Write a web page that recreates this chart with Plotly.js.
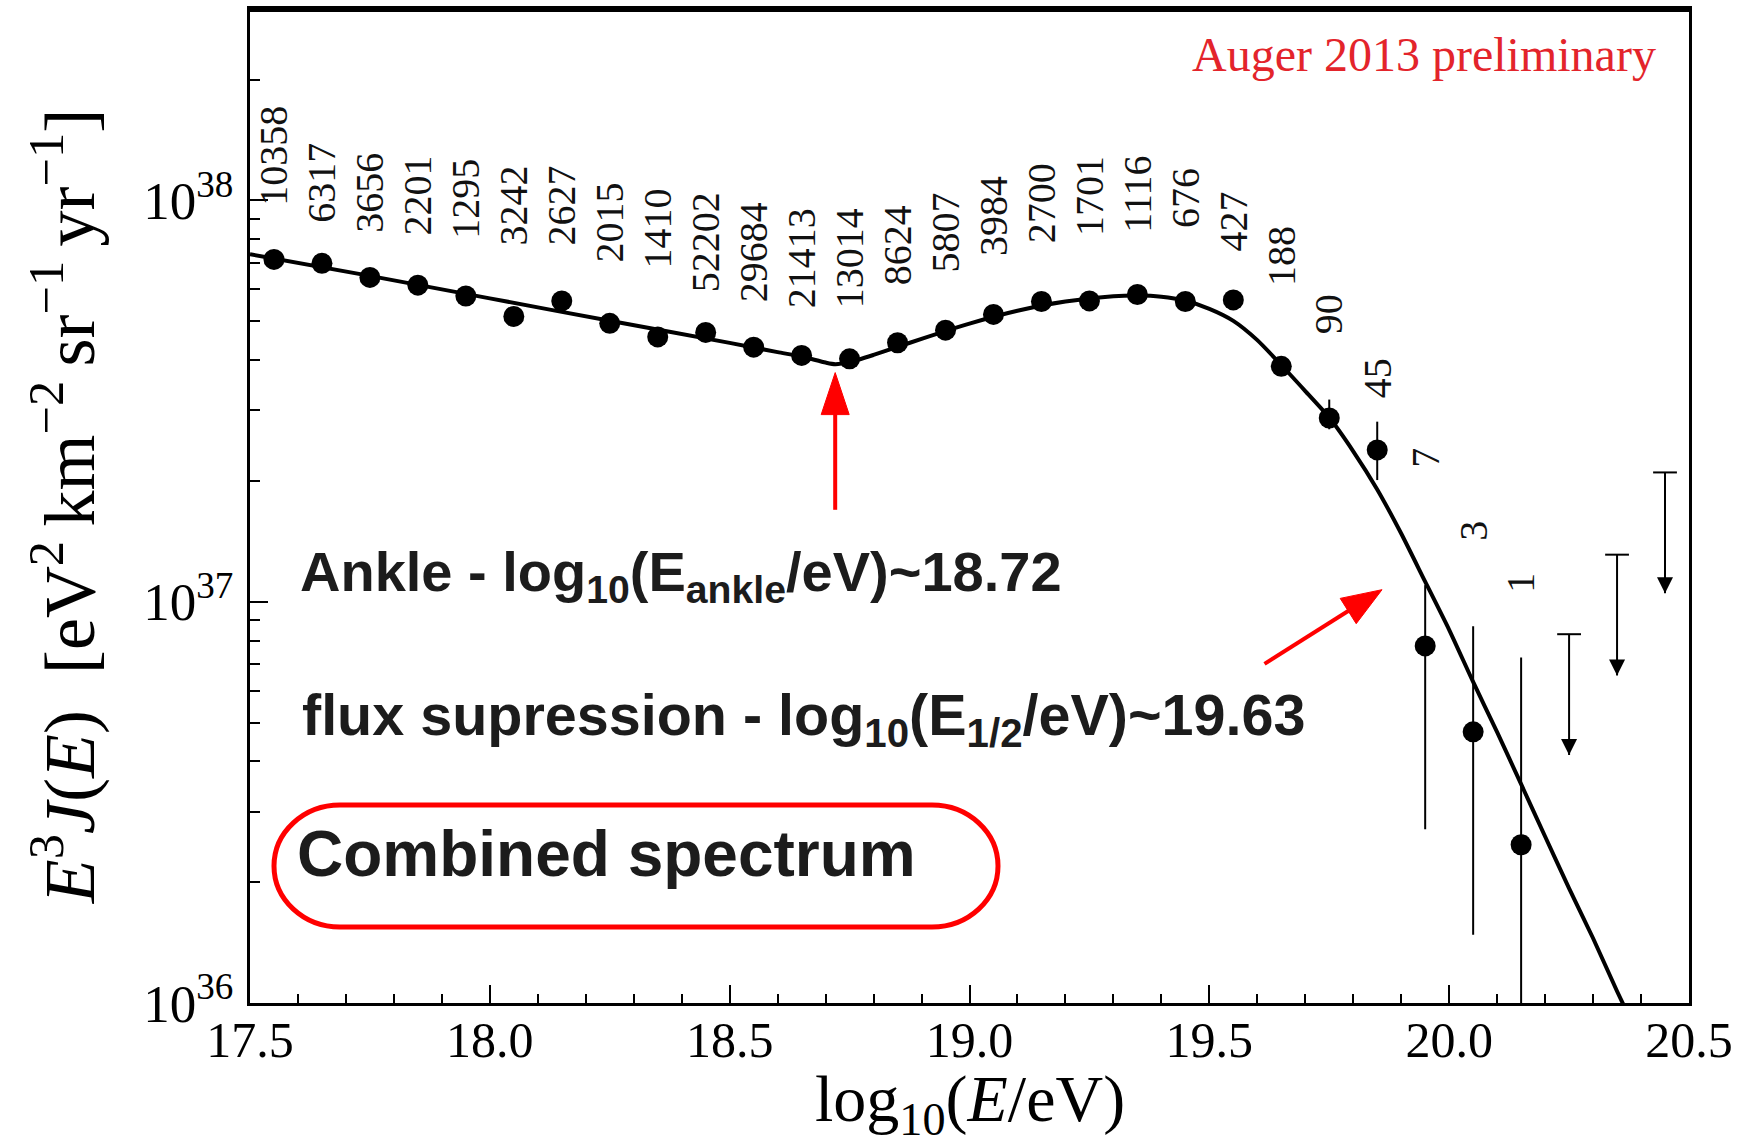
<!DOCTYPE html>
<html>
<head>
<meta charset="utf-8">
<script src="https://cdn.plot.ly/plotly-3.0.1.min.js"></script>
<style>html,body{margin:0;padding:0;background:#fff;}#chart{width:1748px;height:1147px;}</style>
</head>
<body>
<div id="chart"></div>
<script>
// ---- data ----
// bin centres, log10(E/eV)
const logE = [17.55,17.65,17.75,17.85,17.95,18.05,18.15,18.25,18.35,18.45,18.55,18.65,18.75,18.85,18.95,19.05,19.15,19.25,19.35,19.45,19.55,19.65,19.75,19.85,19.95,20.05,20.15];
// E^3 J(E) in units of 1e37 eV^2 km^-2 sr^-1 yr^-1
const flux37 = [7.13,6.97,6.43,6.15,5.78,5.14,5.62,4.94,4.57,4.69,4.31,4.11,4.03,4.42,4.75,5.20,5.60,5.62,5.83,5.60,5.65,3.86,2.87,2.39,0.776,0.474,0.248];
// error bar upper / lower ends (same units), null = bar hidden by marker
const errUp37  = [null,null,null,null,null,null,null,null,null,null,null,null,null,null,null,null,null,null,null,null,null,null,3.19,2.81,1.10,0.869,0.726];
const errLow37 = [null,null,null,null,null,null,null,null,null,null,null,null,null,null,null,null,null,null,null,null,null,null,2.69,2.01,0.271,0.148,0.09];
// number of events per bin
const counts = ['10358','6317','3656','2201','1295','3242','2627','2015','1410','52202','29684','21413','13014','8624','5807','3984','2700','1701','1116','676','427','188','90','45','7','3','1'];
// upper limits
const limitLogE = [20.25,20.35,20.45];
const limit37 = [0.83,1.31,2.10];
// fitted spectrum
const fitLogE = [17.5,17.75,18.0,18.25,18.5,18.6,18.65,18.7,18.72,18.75,18.8,18.85,18.9,19.0,19.1,19.2,19.3,19.35,19.4,19.45,19.5,19.55,19.6,19.65,19.7,19.75,19.8,19.85,19.9,19.95,20.0,20.05,20.1,20.15,20.2,20.25,20.3,20.35,20.4];
const fit37 = [7.345,6.486,5.702,5.012,4.416,4.188,4.083,3.945,3.908,3.954,4.121,4.315,4.519,4.932,5.309,5.598,5.768,5.794,5.754,5.623,5.370,5.012,4.487,3.890,3.350,2.877,2.371,1.905,1.479,1.122,0.851,0.631,0.473,0.351,0.260,0.193,0.145,0.107,0.080];
// axis ticks
const xTickLabels = ['17.5','18.0','18.5','19.0','19.5','20.0','20.5'];
const yTickVals = [1e36,1e37,1e38];
const yTickText = ['10<sup>36</sup>','10<sup>37</sup>','10<sup>38</sup>'];

// ---- layout positions (annotation placement, not data) ----
const countLabelLog = [37.984,37.942,37.917,37.910,37.902,37.885,37.885,37.842,37.827,37.768,37.743,37.728,37.728,37.785,37.817,37.860,37.892,37.910,37.917,37.930,37.871,37.785,37.665,37.505,37.332,37.15,37.02];
const ankleLogE = 18.72, ankleTipLog = 37.571, ankleTailLog = 37.229;
const supTipX = 19.86, supTipLog = 37.03, supTailX = 19.615, supTailLog = 36.845;

const U = 1e37;
const W = 1748, H = 1147;
const M = {l:250, r:59, t:9, b:144};
const plotW = W - M.l - M.r, plotH = H - M.t - M.b;
const xRange = [17.5, 20.5];
const yRange = [36, Math.log10(3e38)];

const fluxY = flux37.map(v => v*U);
const plus = flux37.map((v,i) => errUp37[i] == null ? 0 : (errUp37[i]-v)*U);
const minus = flux37.map((v,i) => errLow37[i] == null ? 0 : (v-errLow37[i])*U);

const limX = [], limY = [];
limitLogE.forEach((x,i) => { limX.push(x,x,null); limY.push(limit37[i]*U, limit37[i]*U/2, null); });

const traces = [
  {x: fitLogE, y: fit37.map(v=>v*U), type:'scatter', mode:'lines', line:{color:'#000', width:4, shape:'spline', smoothing:0.6}, hoverinfo:'skip'},
  {x: logE, y: fluxY, type:'scatter', mode:'markers', marker:{size:21, color:'#000'},
   error_y:{type:'data', symmetric:false, array:plus, arrayminus:minus, color:'#000', thickness:2, width:0}},
  {x: limX, y: limY, type:'scatter', mode:'lines', line:{color:'#000', width:2}, hoverinfo:'skip'},
  {x: limitLogE, y: limit37.map(v=>v*U), type:'scatter', mode:'markers', marker:{symbol:'line-ew', size:17, line:{color:'#000', width:2}}, hoverinfo:'skip'},
  {x: limitLogE, y: limit37.map(v=>v*U/2), type:'scatter', mode:'markers', marker:{symbol:'arrow-down', size:16, color:'#000'}, hoverinfo:'skip'}
];

const serif = 'Liberation Serif, Times New Roman, serif';
const sans = 'Liberation Sans, Arial, sans-serif';

const annotations = counts.map((c,i) => ({
  x: logE[i], y: countLabelLog[i], xref:'x', yref:'y', text:c, showarrow:false,
  textangle:-90, xanchor:'center', yanchor:'bottom', borderpad:0,
  font:{family:serif, size:40, color:'#111'}
}));
annotations.push(
  {xref:'paper', yref:'paper', x:0.5, y:-0.0584, xanchor:'center', yanchor:'top', showarrow:false, borderpad:0,
   text:'log<sub>10</sub>(<i>E</i>/eV)', font:{family:serif, size:66, color:'#000'}},
  {xref:'paper', yref:'paper', x:0.9785, y:0.9547, xanchor:'right', yanchor:'middle', showarrow:false,
   text:'Auger 2013 preliminary', font:{family:serif, size:48, color:'#e3242b'}},
  {xref:'paper', yref:'paper', x:0.0334, y:0.4300, xanchor:'left', yanchor:'middle', showarrow:false,
   text:'<b>Ankle - log<sub>10</sub>(E<sub>ankle</sub>/eV)~18.72</b>', font:{family:sans, size:56, color:'#1c1c1c'}},
  {xref:'paper', yref:'paper', x:0.0348, y:0.2850, xanchor:'left', yanchor:'middle', showarrow:false,
   text:'<b>flux supression - log<sub>10</sub>(E<sub>1/2</sub>/eV)~19.63</b>', font:{family:sans, size:57.5, color:'#1c1c1c'}},
  {xref:'paper', yref:'paper', x:0.0314, y:0.1499, xanchor:'left', yanchor:'middle', showarrow:false,
   text:'<b>Combined spectrum</b>', font:{family:sans, size:64, color:'#1c1c1c'}}
);

// red arrows drawn as pixel-sized shapes anchored at their tips
const pxX = plotW/(xRange[1]-xRange[0]);
const pxY = plotH/(yRange[1]-yRange[0]);
function redArrow(tipX, tipLog, tailX, tailLog, headLen, headHalf) {
  const dx = (tailX-tipX)*pxX, dy = (tailLog-tipLog)*pxY;
  const len = Math.hypot(dx,dy);
  const ux = dx/len, uy = dy/len;
  const bx = ux*headLen, by = uy*headLen;
  const nx = -uy*headHalf, ny = ux*headHalf;
  const base = {type:'path', xref:'x', yref:'y', xsizemode:'pixel', ysizemode:'pixel',
                xanchor:tipX, yanchor:Math.pow(10,tipLog), layer:'above'};
  return [
    Object.assign({}, base, {path:`M${(bx*0.8).toFixed(1)},${(by*0.8).toFixed(1)}L${dx.toFixed(1)},${dy.toFixed(1)}`, line:{color:'#ff0000', width:4}}),
    Object.assign({}, base, {path:`M0,0L${(bx+nx).toFixed(1)},${(by+ny).toFixed(1)}L${(bx-nx).toFixed(1)},${(by-ny).toFixed(1)}Z`, fillcolor:'#ff0000', line:{color:'#ff0000', width:1}})
  ];
}

// rounded frame around "Combined spectrum" (pixel offsets from plot bottom-left)
function stadium(x0,x1,y0,y1,rx,ry){
  const k = 0.5523;
  return `M${x0+rx},${y0} H${x1-rx} C${x1-rx+k*rx},${y0} ${x1},${y0+ry-k*ry} ${x1},${y0+ry}` +
         ` V${y1-ry} C${x1},${y1-ry+k*ry} ${x1-rx+k*rx},${y1} ${x1-rx},${y1}` +
         ` H${x0+rx} C${x0+rx-k*rx},${y1} ${x0},${y1-ry+k*ry} ${x0},${y1-ry}` +
         ` V${y0+ry} C${x0},${y0+ry-k*ry} ${x0+rx-k*rx},${y0} ${x0+rx},${y0} Z`;
}

const shapes = [
  ...redArrow(ankleLogE, ankleTipLog, ankleLogE, ankleTailLog, 42, 14),
  ...redArrow(supTipX, supTipLog, supTailX, supTailLog, 40, 15),
  {type:'path', xref:'paper', yref:'paper', xsizemode:'pixel', ysizemode:'pixel', xanchor:0, yanchor:0,
   path: stadium(24, 748, 76, 198, 66, 61), line:{color:'#ff0000', width:5}, fillcolor:'rgba(0,0,0,0)'},
  {type:'line', xref:'paper', yref:'paper', x0:0, x1:1, y0:1, y1:1, line:{color:'#000', width:6}}
];

const yMinor = [];
for (let d = 36; d <= 38; d++) for (let m = 2; m <= 9; m++) { const v = m*Math.pow(10,d); if (Math.log10(v) <= yRange[1]+1e-9) yMinor.push(v); }

const layout = {
  width: W, height: H,
  margin: {l:M.l, r:M.r, t:M.t, b:M.b, pad:0},
  paper_bgcolor:'#fff', plot_bgcolor:'#fff',
  showlegend:false,
  xaxis: {
    range: xRange, tickmode:'array', tickvals: xTickLabels.map(Number), ticktext: xTickLabels,
    ticks:'inside', ticklen:18, tickwidth:2, tickcolor:'#000',
    showline:true, linecolor:'#000', linewidth:3, mirror:true, showgrid:false, zeroline:false,
    tickfont:{family:serif, size:50, color:'#000'}, ticklabelstandoff:-9,
    minor:{tickmode:'linear', tick0:17.5, dtick:0.1, ticks:'inside', ticklen:9, tickwidth:2, tickcolor:'#000', showgrid:false}
  },
  yaxis: {
    type:'log', range: yRange, tickmode:'array', tickvals: yTickVals, ticktext: yTickText,
    ticks:'inside', ticklen:18, tickwidth:2, tickcolor:'#000',
    showline:true, linecolor:'#000', linewidth:3, mirror:true, showgrid:false, zeroline:false,
    tickfont:{family:serif, size:53, color:'#000'}, ticklabelstandoff:3,
    minor:{tickmode:'array', tickvals: yMinor, ticks:'inside', ticklen:10, tickwidth:2, tickcolor:'#000', showgrid:false},
    title:{text:'<i>E</i><sup>3</sup><i>J</i>(<i>E</i>)\u00a0\u00a0[eV<sup>2</sup>\u2009km<sup>\u22122</sup>\u2009sr<sup>\u22121</sup>\u2009yr<sup>\u22121</sup>]',
           font:{family:serif, size:72, color:'#000'}, standoff:26}
  },
  annotations, shapes
};

Plotly.newPlot('chart', traces, layout, {staticPlot:true, displayModeBar:false});
</script>
</body>
</html>
